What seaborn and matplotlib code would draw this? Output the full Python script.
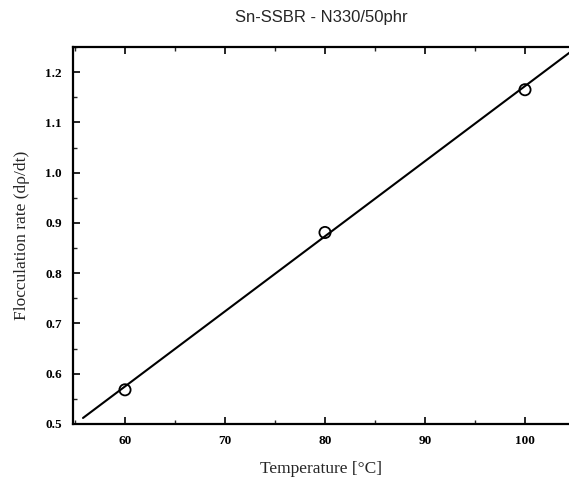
import matplotlib
matplotlib.use("Agg")
import matplotlib.pyplot as plt
import seaborn as sns
import pandas as pd
from matplotlib.ticker import MultipleLocator

temperature = [60, 80, 100]
flocculation_rate = [0.568, 0.881, 1.165]
fit_x = [55.8, 104.6]
fit_y = [0.512, 1.241]
x_ticks = [60, 70, 80, 90, 100]
y_ticks = [0.5, 0.6, 0.7, 0.8, 0.9, 1.0, 1.1, 1.2]

sns.set_theme(style="ticks")
plt.rcParams['font.family'] = ['Liberation Serif', 'DejaVu Serif']

fig = plt.figure(figsize=(5.69, 4.87), dpi=100)
ax = fig.add_axes([73/569, 1-424/487, 1-73/569, (424-47)/487])

pts = pd.DataFrame({"T": temperature, "rate": flocculation_rate})
fit = pd.DataFrame({"T": fit_x, "rate": fit_y})
sns.lineplot(data=fit, x="T", y="rate", ax=ax, color="black", linewidth=1.5)
sns.scatterplot(data=pts, x="T", y="rate", ax=ax, marker="o", s=65,
                facecolor="none", edgecolor="black", linewidth=1.3, zorder=3)

ax.set_xlim(54.8, 104.4)
ax.set_ylim(0.5, 1.25)
ax.set_xticks(x_ticks)
ax.set_yticks(y_ticks)
ax.set_yticklabels([f"{v:.1f}" for v in y_ticks])
ax.xaxis.set_minor_locator(MultipleLocator(5))
ax.yaxis.set_minor_locator(MultipleLocator(0.05))
ax.tick_params(axis="both", which="major", direction="in", length=5, width=1.2,
               top=True, right=False, labelsize=9.5, colors="black", pad=8)
ax.tick_params(axis="both", which="minor", direction="in", length=3, width=1,
               top=True, right=False)
for lab in ax.get_xticklabels() + ax.get_yticklabels():
    lab.set_fontweight("bold")

for s in ["left", "bottom", "top"]:
    ax.spines[s].set_linewidth(1.6)
    ax.spines[s].set_color("black")
ax.spines["right"].set_visible(False)

ax.set_xlabel("Temperature [°C]", fontsize=12.5, labelpad=10)
ax.set_ylabel("Flocculation rate (dρ/dt)", fontsize=12.5, labelpad=11)
ax.set_title("Sn-SSBR - N330/50phr", fontsize=12, family=["Liberation Sans", "DejaVu Sans"], pad=18)

fig.savefig("out.png", dpi=100)
